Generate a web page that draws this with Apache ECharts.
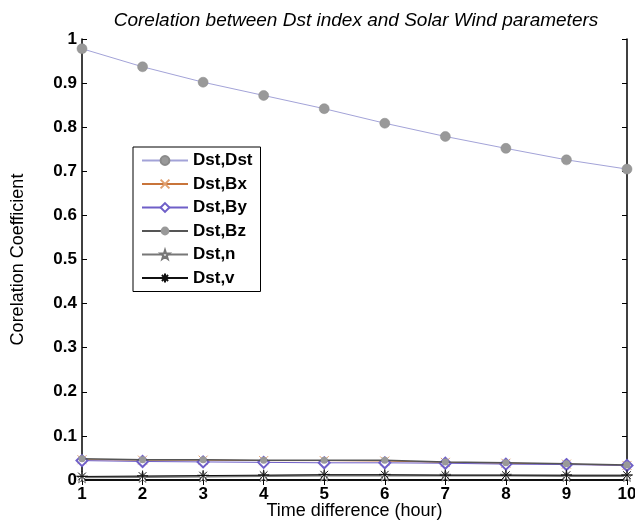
<!DOCTYPE html>
<html>
<head>
<meta charset="utf-8">
<script src="https://cdn.jsdelivr.net/npm/echarts@6/dist/echarts.min.js"></script>
<style>
  html, body { margin: 0; padding: 0; background: #fff; }
  #chart { width: 635px; height: 524px; }
</style>
</head>
<body>
<div id="chart"></div>
<script>
// Time lag in hours
const hours = [1, 2, 3, 4, 5, 6, 7, 8, 9, 10];

// Correlation coefficients of Dst with itself and with solar wind parameters
const dstDst = [0.978, 0.937, 0.902, 0.872, 0.842, 0.809, 0.779, 0.752, 0.726, 0.705];
const dstBx  = [0.046, 0.045, 0.045, 0.044, 0.044, 0.043, 0.040, 0.038, 0.036, 0.033];
const dstBy  = [0.044, 0.042, 0.041, 0.040, 0.039, 0.039, 0.038, 0.036, 0.035, 0.033];
const dstBz  = [0.048, 0.046, 0.046, 0.045, 0.045, 0.045, 0.041, 0.039, 0.037, 0.034];
const dstN   = [0.006, 0.007, 0.008, 0.009, 0.010, 0.010, 0.010, 0.010, 0.009, 0.009];
const dstV   = [0.008, 0.009, 0.010, 0.011, 0.012, 0.012, 0.011, 0.011, 0.011, 0.011];

const seriesNames = ['Dst,Dst', 'Dst,Bx', 'Dst,By', 'Dst,Bz', 'Dst,n', 'Dst,v'];
const yTicks = [0, 0.1, 0.2, 0.3, 0.4, 0.5, 0.6, 0.7, 0.8, 0.9, 1];

const pairs = vals => hours.map((h, i) => [h, vals[i]]);

// Marker shapes drawn as stroked paths
const crossPath = 'path://M0,0L10,10M10,0L0,10';
const asteriskPath = 'path://M0,5L10,5M5,0L5,10M1.5,1.5L8.5,8.5M8.5,1.5L1.5,8.5';
const starPath = 'path://M5,0L6.2,3.6L10,3.6L7,5.9L8.1,9.5L5,7.3L1.9,9.5L3,5.9L0,3.6L3.8,3.6Z';

const FONT = 'Liberation Sans, Arial, Helvetica, sans-serif';

const chart = echarts.init(document.getElementById('chart'), null, { renderer: 'canvas' });

const frameAxis = {
  axisLine: { show: true, lineStyle: { color: '#000', width: 1.5 } },
  axisTick: { show: true, inside: true, length: 5, lineStyle: { color: '#000' } },
  axisLabel: { show: false },
  splitLine: { show: false }
};

chart.setOption({
  backgroundColor: '#fff',
  animation: false,
  title: {
    text: 'Corelation between Dst index and Solar Wind parameters',
    left: 351,
    textAlign: 'center',
    top: 6,
    textStyle: { fontFamily: FONT, fontSize: 19, fontStyle: 'italic', fontWeight: 'normal', color: '#000' }
  },
  grid: { left: 82, right: 8, top: 39, bottom: 44, containLabel: false, outerBoundsMode: 'none' },
  legend: {
    orient: 'vertical',
    left: 133,
    top: 147,
    data: seriesNames,
    itemWidth: 46,
    itemHeight: 11,
    itemGap: 6.5,
    padding: [5, 8, 5, 8],
    borderColor: '#000',
    borderWidth: 1,
    borderRadius: 0,
    backgroundColor: '#fff',
    textStyle: { fontFamily: FONT, fontSize: 17, fontWeight: 'bold', color: '#000', lineHeight: 16 }
  },
  xAxis: [
    {
      type: 'value',
      min: 1, max: 10, interval: 1,
      position: 'bottom',
      name: 'Time difference (hour)',
      nameLocation: 'middle',
      nameGap: 22,
      nameMoveOverlap: false,
      nameTextStyle: { fontFamily: FONT, fontSize: 18, color: '#000' },
      axisLine: { show: true, onZero: false, lineStyle: { color: '#000', width: 1.5 } },
      axisTick: { show: true, inside: true, length: 5, lineStyle: { color: '#000' } },
      axisLabel: { fontFamily: FONT, fontSize: 17, fontWeight: 'bold', color: '#000', margin: 6 },
      splitLine: { show: false }
    },
    Object.assign({ type: 'value', min: 1, max: 10, interval: 1, position: 'top' }, frameAxis)
  ],
  yAxis: [
    {
      type: 'value',
      min: 0, max: 1, interval: 0.1,
      position: 'left',
      name: 'Corelation Coefficient',
      nameLocation: 'middle',
      nameGap: 55,
      nameTextStyle: { fontFamily: FONT, fontSize: 18, color: '#000' },
      axisLine: { show: true, onZero: false, lineStyle: { color: '#000', width: 1.5 } },
      axisTick: { show: true, inside: true, length: 5, lineStyle: { color: '#000' } },
      axisLabel: {
        fontFamily: FONT, fontSize: 17, fontWeight: 'bold', color: '#000', margin: 5,
        formatter: v => String(yTicks.find(t => Math.abs(t - v) < 1e-9) ?? v)
      },
      splitLine: { show: false }
    },
    Object.assign({ type: 'value', min: 0, max: 1, interval: 0.1, position: 'right' }, frameAxis)
  ],
  series: [
    {
      name: 'Dst,Dst', type: 'line', data: pairs(dstDst),
      symbol: 'circle', symbolSize: 10, z: 6,
      lineStyle: { color: '#a3a3d8', width: 1 },
      itemStyle: { color: '#999', borderColor: '#8a8a8a', borderWidth: 0.5 }
    },
    {
      name: 'Dst,Bx', type: 'line', data: pairs(dstBx),
      symbol: crossPath, symbolSize: 9, z: 4,
      lineStyle: { color: '#c8743a', width: 1 },
      itemStyle: { color: 'rgba(0,0,0,0)', borderColor: '#e0a070', borderWidth: 1 }
    },
    {
      name: 'Dst,By', type: 'line', data: pairs(dstBy),
      symbol: 'emptyDiamond', symbolSize: 11, z: 5,
      lineStyle: { color: '#6f5fc8', width: 1 },
      itemStyle: { color: '#6f5fc8', borderColor: '#6f5fc8', borderWidth: 1 }
    },
    {
      name: 'Dst,Bz', type: 'line', data: pairs(dstBz),
      symbol: 'circle', symbolSize: 7, z: 6,
      lineStyle: { color: '#555', width: 1.5 },
      itemStyle: { color: '#999' }
    },
    {
      name: 'Dst,n', type: 'line', data: pairs(dstN),
      symbol: starPath, symbolSize: 11, z: 4,
      lineStyle: { color: '#777', width: 2 },
      itemStyle: { color: '#fff', borderColor: '#777', borderWidth: 1 }
    },
    {
      name: 'Dst,v', type: 'line', data: pairs(dstV),
      symbol: asteriskPath, symbolSize: 11, z: 5,
      lineStyle: { color: '#111', width: 1 },
      itemStyle: { color: 'rgba(0,0,0,0)', borderColor: '#111', borderWidth: 1 }
    }
  ]
});
</script>
</body>
</html>
